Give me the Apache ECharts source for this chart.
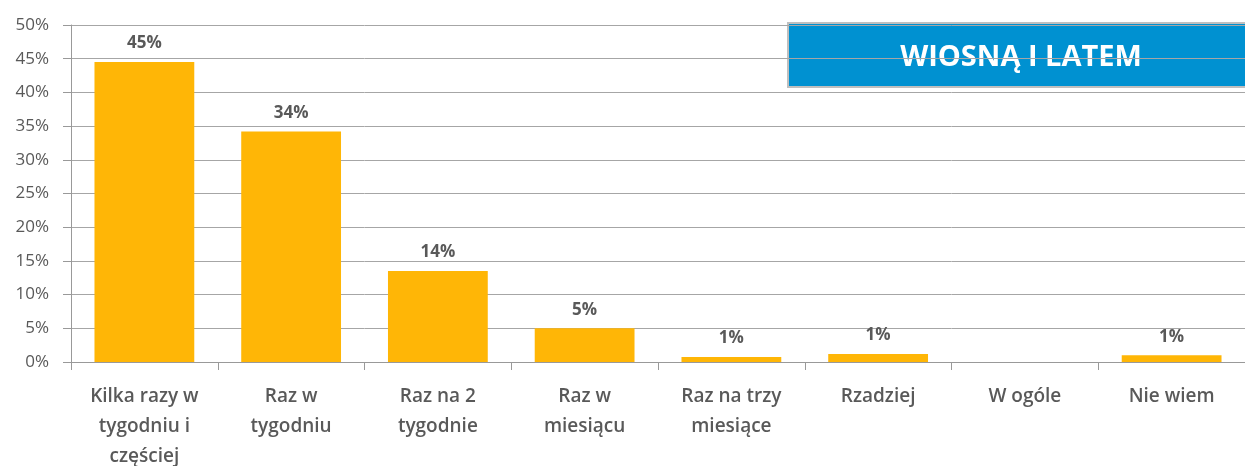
<!DOCTYPE html>
<html>
<head>
<meta charset="utf-8">
<script src="https://cdn.jsdelivr.net/npm/echarts@6/dist/echarts.min.js"></script>
<style>
  html, body { margin: 0; padding: 0; background: #fff; }
  #chart { width: 1245px; height: 466px; }
</style>
</head>
<body>
<div id="chart"></div>
<script>
const categories = [
  'Kilka razy w\ntygodniu i\nczęściej',
  'Raz w\ntygodniu',
  'Raz na 2\ntygodnie',
  'Raz w\nmiesiącu',
  'Raz na trzy\nmiesiące',
  'Rzadziej',
  'W ogóle',
  'Nie wiem'
]
const values = [44.5, 34.2, 13.5, 5.0, 0.75, 1.2, 0, 1.0]
const valueLabels = ['45%', '34%', '14%', '5%', '1%', '1%', '', '1%']
const yTicks = [0, 5, 10, 15, 20, 25, 30, 35, 40, 45, 50]

const font = '"Open Sans", "Liberation Sans", sans-serif'
const textColor = '#595959'

const myChart = echarts.init(document.getElementById('chart'))
const option = {
  animation: false,
  grid: {
    left: 71,
    right: 0,
    top: 25,
    bottom: 104,
    containLabel: false,
    outerBoundsMode: 'none'
  },
  xAxis: {
    type: 'category',
    data: categories,
    axisLine: { lineStyle: { color: '#999', width: 1 } },
    axisTick: { show: true, length: 8, lineStyle: { color: '#999' } },
    axisLabel: {
      interval: 0,
      margin: 20,
      fontFamily: font,
      fontSize: 19,
      fontWeight: 600,
      color: textColor,
      lineHeight: 30
    }
  },
  yAxis: {
    type: 'value',
    min: 0,
    max: 50,
    interval: 5,
    axisLine: { show: true, lineStyle: { color: '#999' } },
    axisTick: { show: true, length: 8, lineStyle: { color: '#999' } },
    splitLine: { lineStyle: { color: '#a6a6a6' } },
    axisLabel: {
      margin: 22,
      fontFamily: font,
      fontSize: 17,
      color: textColor,
      formatter: v => (yTicks.includes(v) ? v + '%' : '')
    }
  },
  series: [
    {
      type: 'bar',
      data: values,
      barCategoryGap: '32%',
      itemStyle: { color: '#ffb606' },
      label: {
        show: true,
        position: 'top',
        distance: 10,
        fontFamily: font,
        fontSize: 17,
        fontWeight: 'bold',
        color: textColor,
        formatter: p => valueLabels[p.dataIndex]
      }
    }
  ],
  graphic: [
    {
      type: 'group',
      left: 787,
      top: 22,
      children: [
        {
          type: 'rect',
          shape: { x: 0, y: 0, width: 460, height: 64 },
          style: { fill: '#0091d1', stroke: '#bfbfbf', lineWidth: 2 }
        },
        {
          type: 'text',
          x: 233,
          y: 35,
          style: {
            text: 'WIOSNĄ I LATEM',
            fill: '#fff',
            font: 'bold 29px ' + font,
            align: 'center',
            verticalAlign: 'middle'
          }
        }
      ]
    }
  ]
}
myChart.setOption(option)
</script>
</body>
</html>
